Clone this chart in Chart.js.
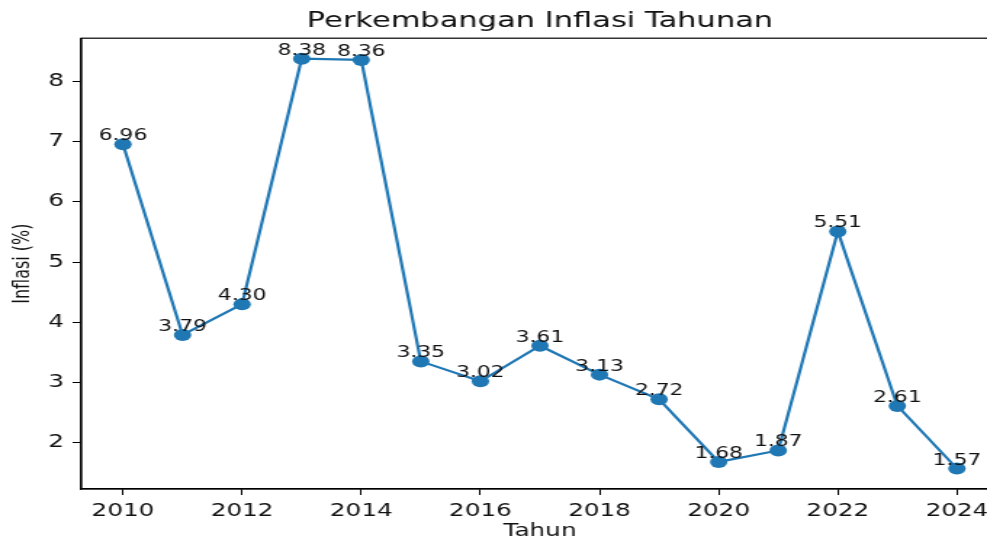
<!DOCTYPE html>
<html>
<head>
<meta charset="utf-8">
<script src="https://cdn.jsdelivr.net/npm/chart.js@4"></script>
<style>
  html, body { margin: 0; padding: 0; background: #fff; overflow: hidden; width: 987px; height: 542px; }
  #wrap { width: 700px; height: 542px; transform: scaleX(1.4515); transform-origin: 0 0; }
</style>
</head>
<body>
<div id="wrap"><canvas id="inflasi" width="700" height="542"></canvas></div>
<script>
const tahun = [2010, 2011, 2012, 2013, 2014, 2015, 2016, 2017, 2018, 2019, 2020, 2021, 2022, 2023, 2024];
const inflasi = [6.96, 3.79, 4.30, 8.38, 8.36, 3.35, 3.02, 3.61, 3.13, 2.72, 1.68, 1.87, 5.51, 2.61, 1.57];
const xTicks = [2010, 2012, 2014, 2016, 2018, 2020, 2022, 2024];
const yTicks = [2, 3, 4, 5, 6, 7, 8];
const judul = 'Perkembangan Inflasi Tahunan';

const biru = '#1f77b4';
const huruf = 'DejaVu Sans';

// kotak penuh di sekeliling area plot (seperti matplotlib)
const bingkai = {
  id: 'bingkai',
  afterDraw(chart) {
    const {ctx, chartArea: a} = chart;
    ctx.save();
    ctx.strokeStyle = '#000';
    ctx.lineWidth = 1.2;
    ctx.strokeRect(a.left, a.top, a.right - a.left, a.bottom - a.top);
    ctx.restore();
  }
};

// judul di tengah area plot, bukan di tengah kanvas
const judulPlot = {
  id: 'judulPlot',
  afterDraw(chart) {
    const {ctx, chartArea: a} = chart;
    ctx.save();
    ctx.font = '21px "' + huruf + '"';
    ctx.fillStyle = '#111';
    ctx.textAlign = 'center';
    ctx.textBaseline = 'middle';
    ctx.fillText(judul, (a.left + a.right) / 2, 21.6);
    ctx.restore();
  }
};

// label nilai di atas tiap titik
const labelNilai = {
  id: 'labelNilai',
  afterDatasetsDraw(chart) {
    const {ctx} = chart;
    const meta = chart.getDatasetMeta(0);
    ctx.save();
    ctx.font = '15px "' + huruf + '"';
    ctx.fillStyle = '#111';
    ctx.textAlign = 'center';
    ctx.textBaseline = 'alphabetic';
    meta.data.forEach((pt, i) => {
      ctx.fillText(inflasi[i].toFixed(2), pt.x, pt.y - 4);
    });
    ctx.restore();
  }
};

const ctx = document.getElementById('inflasi').getContext('2d');
new Chart(ctx, {
  type: 'line',
  data: {
    datasets: [{
      label: 'Inflasi',
      data: tahun.map((t, i) => ({x: t, y: inflasi[i]})),
      borderColor: biru,
      backgroundColor: biru,
      borderWidth: 2.2,
      pointRadius: 6,
      pointBorderWidth: 0,
      pointBackgroundColor: biru,
      tension: 0
    }]
  },
  options: {
    responsive: false,
    animation: false,
    devicePixelRatio: 1,
    layout: { padding: { left: 0, right: 12, top: 38.2, bottom: 0 } },
    plugins: {
      legend: { display: false },
      tooltip: { enabled: false },
      title: { display: false }
    },
    scales: {
      x: {
        type: 'linear',
        min: 2009.3,
        max: 2024.7,
        afterFit(scale) { scale.height = 53; },
        afterBuildTicks(scale) { scale.ticks = xTicks.map(v => ({value: v})); },
        grid: { drawOnChartArea: false, drawTicks: true, tickLength: 6, tickColor: '#000' },
        border: { color: '#000', width: 1.2 },
        ticks: {
          color: '#111',
          font: { family: huruf, size: 17 },
          padding: 6,
          maxRotation: 0,
          callback: v => String(v)
        },
        title: {
          display: true,
          text: 'Tahun',
          color: '#111',
          font: { family: huruf, size: 17 },
          padding: { top: 0, bottom: 0 }
        }
      },
      y: {
        min: 1.2295,
        max: 8.7205,
        afterFit(scale) { scale.width = 56; },
        afterBuildTicks(scale) { scale.ticks = yTicks.map(v => ({value: v})); },
        grid: { drawOnChartArea: false, drawTicks: true, tickLength: 6, tickColor: '#000' },
        border: { color: '#000', width: 1.2 },
        ticks: {
          color: '#111',
          font: { family: huruf, size: 17 },
          padding: 6,
          callback: v => String(v)
        },
        title: {
          display: true,
          text: 'Inflasi (%)',
          color: '#111',
          font: { family: huruf, size: 16 },
          padding: { top: 6, bottom: 0 }
        }
      }
    }
  },
  plugins: [bingkai, judulPlot, labelNilai]
});
</script>
</body>
</html>
